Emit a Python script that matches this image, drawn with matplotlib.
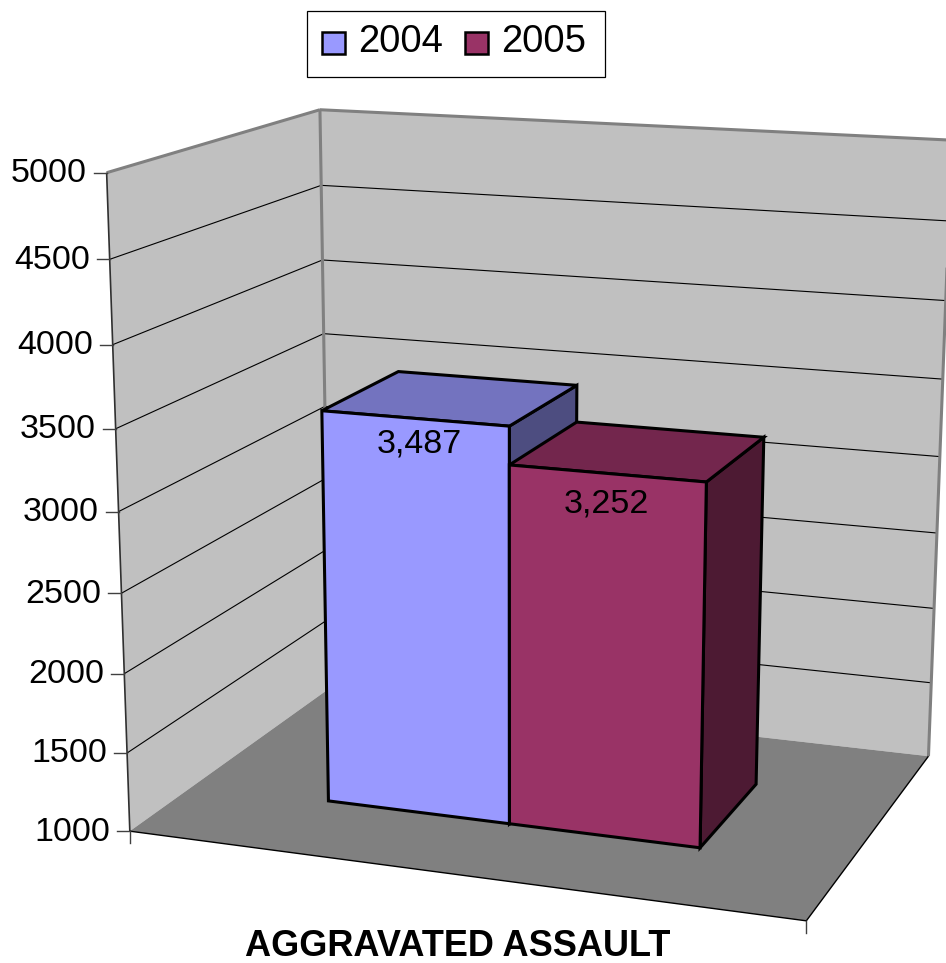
import numpy as np
import matplotlib
matplotlib.use('Agg')
import matplotlib.pyplot as plt
from matplotlib.patches import Polygon, Rectangle

plt.rcParams['font.family'] = ['Liberation Sans', 'DejaVu Sans']

# data
category = 'AGGRAVATED ASSAULT'
series_names = ['2004', '2005']
series_values = [3487, 3252]
value_labels = ['3,487', '3,252']
value_ticks = [1000, 1500, 2000, 2500, 3000, 3500, 4000, 4500, 5000]

# colours
WALL = '#C0C0C0'
FLOOR = '#808080'
EDGE = '#808080'
FRONT = ['#9999FF', '#993366']
TOP = ['#7373BF', '#73264D']
SIDE = ['#4D4D80', '#4D1A33']

VMIN, VMAX = value_ticks[0], value_ticks[-1]

# bar footprint on the floor
BAR_EDGES = [0.216, 0.50, 0.787]
BAR_DEPTH = [0.30, 0.70]
LABEL_OFFSET = [(5, 26), (0, 31)]

H1 = (series_values[0] - VMIN) / (VMAX - VMIN)
H2 = (series_values[1] - VMIN) / (VMAX - VMIN)

# box corners on the page: (x, height, depth) -> pixel, used to fit the camera
CAMERA_POINTS = [
    ((0, 0, 0), (130.5, 829)),
    ((0, 0.125, 0), (128, 752)),
    ((0, 0.25, 0), (124, 674)),
    ((0, 0.625, 0), (115.5, 429)),
    ((0, 0.75, 0), (113, 346)),
    ((0, 0.875, 0), (109, 259)),
    ((0, 1, 0), (105, 172)),
    ((0, 0, 1), (325, 690)),
    ((0, 0.625, 1), (326, 334)),
    ((0, 0.75, 1), (324, 259)),
    ((0, 0.875, 1), (321.7, 185)),
    ((0, 1, 1), (320, 110)),
    ((1, 0, 1), (929, 755)),
    ((1, 0.125, 1), (931, 683)),
    ((1, 0.625, 1), (942, 378)),
    ((1, 0.75, 1), (945, 300.7)),
    ((1, 1, 1), (950, 139)),
    ((1, 0, 0), (807, 922)),
    # bar corners
    ((0.216, H1, 0.3), (320, 411)),
    ((0.216, 0, 0.3), (329, 800)),
    ((0.5, H1, 0.3), (509, 427)),
    ((0.5, 0, 0.3), (510, 823)),
    ((0.787, 0, 0.3), (699, 848)),
    ((0.787, H2, 0.3), (706, 483)),
    ((0.787, H2, 0.7), (766, 438)),
    ((0.787, 0, 0.7), (757, 785)),
    ((0.216, H1, 0.7), (399, 373)),
    ((0.5, H1, 0.7), (579, 385)),
]


def fit_camera(points):
    rows = []
    for (x, y, z), (u, v) in points:
        rows.append([x, y, z, 1, 0, 0, 0, 0, -u * x, -u * y, -u * z, -u])
        rows.append([0, 0, 0, 0, x, y, z, 1, -v * x, -v * y, -v * z, -v])
    _, _, vt = np.linalg.svd(np.array(rows, dtype=float))
    return vt[-1].reshape(3, 4)


CAMERA = fit_camera(CAMERA_POINTS)


def project(x, value, depth):
    h = (value - VMIN) / (VMAX - VMIN)
    p = CAMERA @ np.array([x, h, depth, 1.0])
    return p[0] / p[2], p[1] / p[2]


fig = plt.figure(figsize=(9.46, 9.63), dpi=100)
ax = fig.add_axes([0, 0, 1, 1])
ax.set_xlim(0, 946)
ax.set_ylim(963, 0)
ax.axis('off')


def face(corners, color, edge='none', lw=0, z=1):
    ax.add_patch(Polygon([project(*c) for c in corners], closed=True, facecolor=color,
                         edgecolor=edge, linewidth=lw, joinstyle='miter', zorder=z))


def line(a, b, color='black', lw=0.8, z=2):
    pa, pb = project(*a), project(*b)
    ax.plot([pa[0], pb[0]], [pa[1], pb[1]], color=color, lw=lw, zorder=z, solid_capstyle='butt')


# walls and floor
face([(0, VMIN, 0), (0, VMAX, 0), (0, VMAX, 1), (0, VMIN, 1)], WALL)
face([(0, VMIN, 1), (0, VMAX, 1), (1, VMAX, 1), (1, VMIN, 1)], WALL)
face([(0, VMIN, 0), (1, VMIN, 0), (1, VMIN, 1), (0, VMIN, 1)], FLOOR)

# gridlines
for t in value_ticks[1:-1]:
    line((0, t, 0), (0, t, 1))
    line((0, t, 1), (1, t, 1))

# wall edges
line((0, VMAX, 0), (0, VMAX, 1), EDGE, 2.2, 3)
line((0, VMAX, 1), (1, VMAX, 1), EDGE, 2.2, 3)
line((0, VMAX, 1), (0, VMIN, 1), EDGE, 2.2, 2)
line((1, VMAX, 1), (1, VMIN, 1), EDGE, 2.2, 3)
line((0, VMIN, 0), (0, VMAX, 0), '#303030', 1.2, 3)
line((0, VMIN, 0), (1, VMIN, 0), 'black', 1.0, 3)
line((1, VMIN, 0), (1, VMIN, 1), 'black', 1.0, 3)

# ticks and tick labels
for t in value_ticks:
    px, py = project(0, t, 0)
    ax.plot([px - 13, px], [py, py], color='#404040', lw=1.0, zorder=3)
    ax.text(px - 20, py + 1, str(t), ha='right', va='center', fontsize=24.5, color='black')
for x in (0, 1):
    px, py = project(x, VMIN, 0)
    ax.plot([px, px], [py, py + 12], color='#404040', lw=1.0, zorder=3)

# bars
for i, val in enumerate(series_values):
    x0, x1 = BAR_EDGES[i], BAR_EDGES[i + 1]
    d0, d1 = BAR_DEPTH
    z = 5 + i
    lw = 2.2
    face([(x1, VMIN, d0), (x1, val, d0), (x1, val, d1), (x1, VMIN, d1)], SIDE[i], 'black', lw, z)
    face([(x0, val, d0), (x1, val, d0), (x1, val, d1), (x0, val, d1)], TOP[i], 'black', lw, z)
    face([(x0, VMIN, d0), (x1, VMIN, d0), (x1, val, d0), (x0, val, d0)], FRONT[i], 'black', lw, z)
    px, py = project((x0 + x1) / 2, val, d0)
    ax.text(px + LABEL_OFFSET[i][0], py + LABEL_OFFSET[i][1], value_labels[i], ha='center', va='center',
            fontsize=24.5, color='black', zorder=10)

# legend
ax.add_patch(Rectangle((307, 11), 298, 66, facecolor='white', edgecolor='black', lw=0.9, zorder=10))
for sx, tx, c, name in zip((322, 465), (358, 501), FRONT, series_names):
    ax.add_patch(Rectangle((sx, 32), 23, 22, facecolor=c, edgecolor='black', lw=1.8, zorder=11))
    ax.text(tx, 42, name, ha='left', va='center', fontsize=27.5, color='black', zorder=11)

# category label
ax.text(458, 946, category, ha='center', va='center', fontsize=26, fontweight='bold', color='black')

fig.savefig('out.png', dpi=100)
